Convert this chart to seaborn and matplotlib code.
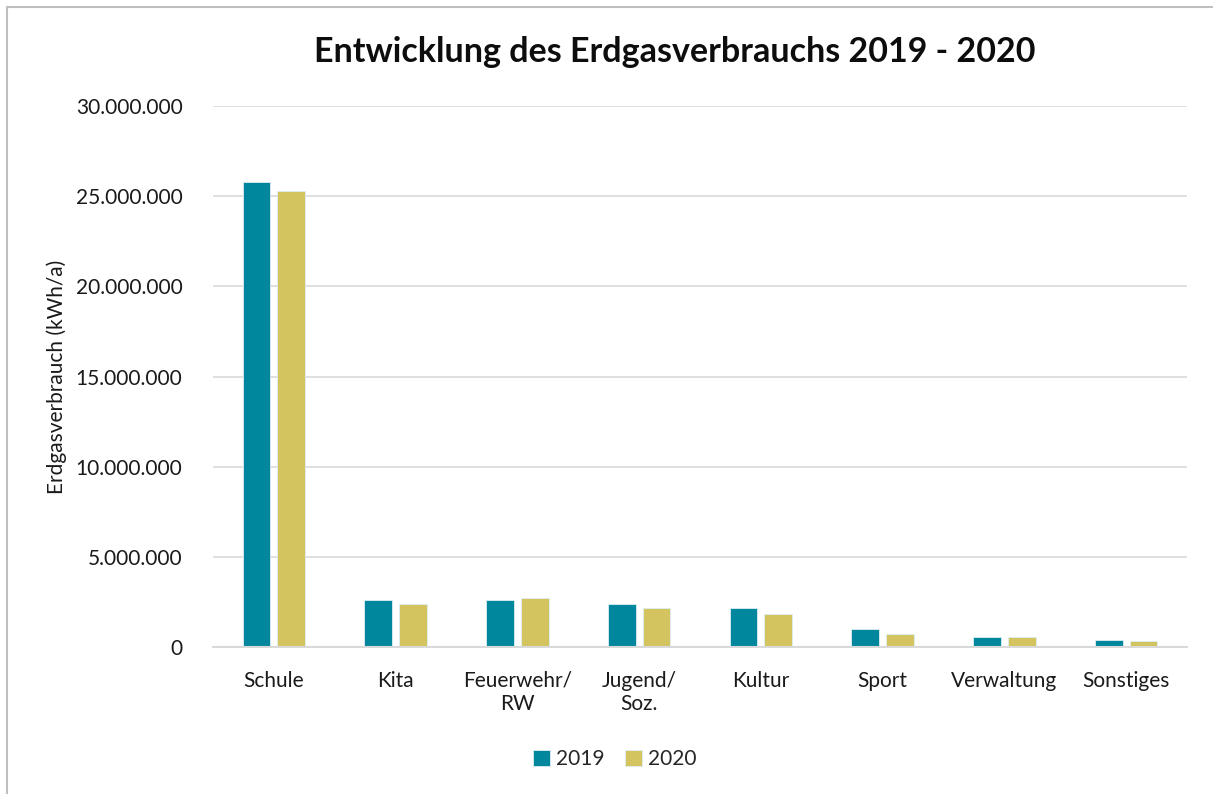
import pandas as pd
import matplotlib
matplotlib.use("Agg")
import matplotlib.pyplot as plt
import matplotlib.ticker as mticker
from matplotlib.patches import Rectangle
import seaborn as sns

# Data (kWh/a)
kategorien = ['Schule', 'Kita', 'Feuerwehr/\nRW', 'Jugend/\nSoz.', 'Kultur',
              'Sport', 'Verwaltung', 'Sonstiges']
werte_2019 = [25760000, 2600000, 2600000, 2400000, 2150000, 1020000, 580000, 380000]
werte_2020 = [25280000, 2360000, 2730000, 2170000, 1840000, 730000, 530000, 320000]
jahre = ['2019', '2020']
farben = ['#00879D', '#D3C460']

sns.set_theme(style="white")
plt.rcParams['font.family'] = ['Lato', 'DejaVu Sans']

df = pd.DataFrame({
    'Kategorie': kategorien * 2,
    'Verbrauch': werte_2019 + werte_2020,
    'Jahr': [jahre[0]] * len(kategorien) + [jahre[1]] * len(kategorien),
})

fig = plt.figure(figsize=(12.13, 7.94), dpi=100)
ax = fig.add_axes([0.1756, 0.1851, 0.8030, 0.6814])

sns.barplot(data=df, x='Kategorie', y='Verbrauch', hue='Jahr',
            palette=farben, saturation=1, width=0.57, gap=0.2, ax=ax,
            edgecolor='#DDEFF2', linewidth=0.6, errorbar=None)

ax.set_ylim(0, 30000000)
ax.set_xlim(-0.5, len(kategorien) - 0.5)
ax.yaxis.set_major_locator(mticker.MultipleLocator(5000000))
ax.yaxis.set_major_formatter(
    mticker.FuncFormatter(lambda v, p: f"{int(v):,}".replace(',', '.')))
ax.grid(axis='y', color='#D9D9D9', linewidth=1.2)
ax.set_axisbelow(True)
for side in ['top', 'right', 'left']:
    ax.spines[side].set_visible(False)
ax.spines['bottom'].set_color('#D9D9D9')
ax.spines['bottom'].set_linewidth(1.5)
ax.tick_params(axis='both', length=0, labelsize=15, colors='#1a1a1a')
ax.tick_params(axis='x', pad=17)
ax.tick_params(axis='y', pad=22)
ax.set_xlabel('')
ax.set_ylabel('Erdgasverbrauch (kWh/a)', fontsize=15, color='#1a1a1a', labelpad=6)

fig.text(0.5565, 0.934, 'Entwicklung des Erdgasverbrauchs 2019 - 2020',
         ha='center', va='center', fontsize=24.5, fontweight='bold', color='#0d0d0d')

ax.legend(loc='center', bbox_to_anchor=(0.507, 0.044), bbox_transform=fig.transFigure,
          ncol=2, frameon=False, fontsize=15, handlelength=0.8, handleheight=0.8,
          handletextpad=0.3, columnspacing=1.0)

# chart area border
fig.patches.append(Rectangle((7 / 1213, -0.1), 1.2, 1.1 - 7 / 794, transform=fig.transFigure,
                             fill=False, edgecolor='#BFBFBF', linewidth=1.5))

fig.savefig('out.png', dpi=100)
